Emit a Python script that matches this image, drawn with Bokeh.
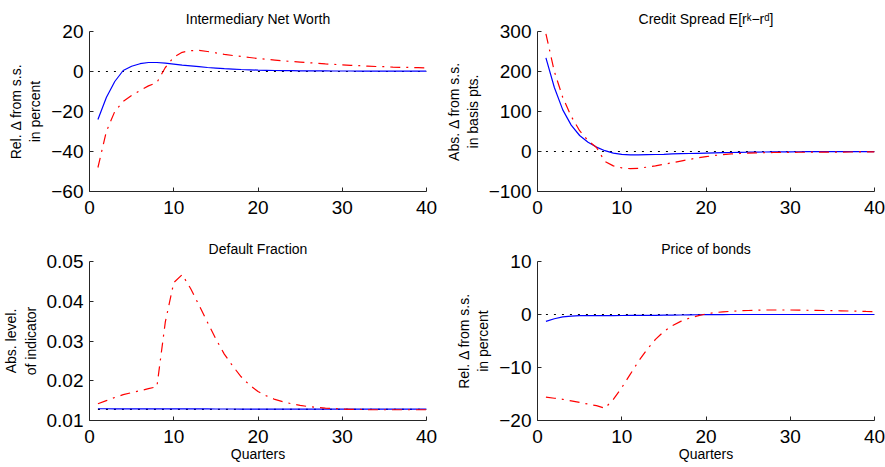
from bokeh.plotting import figure
from bokeh.layouts import gridplot
from bokeh.models import Range1d, FixedTicker
from bokeh.embed import file_html
from bokeh.resources import INLINE

# ---------------- data ----------------
quarters = list(range(1, 41))

# Intermediary Net Worth (rel. deviation, percent)
nw_blue = [-24.0, -13.0, -5.0, 0.5, 2.6, 3.9, 4.5, 4.5, 4.2, 3.7, 3.2, 2.8, 2.4, 2.0, 1.7,
           1.4, 1.2, 1.0, 0.85, 0.7, 0.6, 0.5, 0.45, 0.4, 0.35, 0.32, 0.3, 0.28, 0.26, 0.25,
           0.24, 0.23, 0.22, 0.21, 0.2, 0.2, 0.19, 0.19, 0.18, 0.18]
nw_red = [-48.0, -30.0, -20.0, -15.0, -12.0, -9.5, -7.2, -5.5, 2.0, 7.2, 9.6, 10.4, 10.6, 10.0, 9.3,
          8.6, 8.0, 7.5, 7.0, 6.5, 6.1, 5.7, 5.3, 5.0, 4.7, 4.4, 4.1, 3.8, 3.6, 3.3,
          3.1, 2.9, 2.7, 2.5, 2.4, 2.2, 2.1, 2.0, 1.9, 1.8]
nw_ss = [0.0] * 40

# Credit Spread (abs. deviation, basis points)
cs_blue = [234, 160, 104, 66, 40, 23, 11, 2, -4, -7, -8.5, -8.5, -8, -7.5, -7,
           -6, -5.5, -5, -4.5, -4, -3.5, -3, -2.5, -2, -1.8, -1.5, -1.2, -1, -0.8, -0.7,
           -0.6, -0.5, -0.5, -0.4, -0.4, -0.3, -0.3, -0.2, -0.2, -0.2]
cs_red = [294, 200, 135, 88, 52, 27, 10, -25, -36, -41, -43, -42, -39, -36, -32,
          -28, -24, -20, -16, -13, -10, -8, -6, -5, -4, -3.5, -3, -2.5, -2.3, -2,
          -1.9, -1.8, -1.7, -1.6, -1.5, -1.4, -1.3, -1.2, -1.1, -1.0]
cs_ss = [0.0] * 40

# Default Fraction (abs. level)
df_blue = [0.01295, 0.01295, 0.01294, 0.01294, 0.01293, 0.01293, 0.01292, 0.01292, 0.01292, 0.01291,
           0.01291, 0.0129, 0.0129, 0.0129, 0.01289, 0.01289, 0.01289, 0.01288, 0.01288, 0.01288,
           0.01288, 0.01287, 0.01287, 0.01287, 0.01287, 0.01286, 0.01286, 0.01286, 0.01286, 0.01286,
           0.01285, 0.01285, 0.01285, 0.01285, 0.01285, 0.01285, 0.01285, 0.01285, 0.01285, 0.01285]
df_red = [0.0142, 0.0150, 0.0158, 0.0165, 0.0170, 0.0175, 0.0180, 0.0185, 0.0348, 0.0447,
          0.0467, 0.0432, 0.0390, 0.0347, 0.0305, 0.0267, 0.0237, 0.0210, 0.0189, 0.0173,
          0.0162, 0.0153, 0.0147, 0.0142, 0.0138, 0.0135, 0.0133, 0.0131, 0.0130, 0.0129,
          0.0128, 0.0128, 0.0127, 0.0127, 0.0127, 0.0127, 0.0127, 0.0127, 0.0127, 0.0127]
df_ss = [0.0128] * 40

# Price of bonds (rel. deviation, percent)
pb_blue = [-1.3, -0.8, -0.45, -0.3, -0.22, -0.2, -0.2, -0.2, -0.2, -0.19, -0.18, -0.17, -0.16, -0.15, -0.13,
           -0.11, -0.09, -0.07, -0.05, -0.03, -0.02, -0.01, 0.0, 0.0, 0.0, 0.0, 0.0, 0.0, 0.0, 0.0,
           0.0, 0.0, 0.0, 0.0, 0.0, 0.0, 0.0, 0.0, 0.0, 0.0]
pb_red = [-15.6, -15.8, -16.0, -16.3, -16.6, -16.9, -17.2, -17.7, -16.0, -13.8, -11.3, -8.8, -6.6, -4.7, -3.2,
          -2.1, -1.3, -0.7, -0.25, 0.1, 0.35, 0.5, 0.6, 0.7, 0.75, 0.8, 0.85, 0.85, 0.85, 0.85,
          0.82, 0.8, 0.78, 0.75, 0.72, 0.7, 0.66, 0.62, 0.58, 0.55]
pb_ss = [0.0] * 40

x_ticks = [0, 10, 20, 30, 40]
nw_ticks = [-60, -40, -20, 0, 20]
nw_tick_labels = ["\u221260", "\u221240", "\u221220", "0", "20"]
cs_ticks = [-100, 0, 100, 200, 300]
cs_tick_labels = ["\u2212100", "0", "100", "200", "300"]
df_ticks = [0.01, 0.02, 0.03, 0.04, 0.05]
df_tick_labels = ["0.01", "0.02", "0.03", "0.04", "0.05"]
pb_ticks = [-20, -10, 0, 10]
pb_tick_labels = ["\u221220", "\u221210", "0", "10"]

FONT = "Liberation Sans"
AX = "#262626"


def make(title, ylabel, yr, yt, ytl, blue, red, ss, left, top, width, height, bottom, right, xlabel=None):
    p = figure(width=width, height=height, x_range=Range1d(0, 40), y_range=Range1d(*yr),
               toolbar_location=None, output_backend="svg",
               min_border_left=left, min_border_right=right, min_border_top=top,
               min_border_bottom=bottom)
    p.outline_line_color = None
    p.xgrid.visible = False
    p.ygrid.visible = False
    p.background_fill_color = "white"
    p.border_fill_color = "white"

    p.title.text = title
    p.title.align = "center"
    p.title.text_font = FONT
    p.title.text_font_size = "14px"
    p.title.text_font_style = "normal"
    p.title.text_color = "black"

    for ax in (p.xaxis[0], p.yaxis[0]):
        ax.axis_line_color = AX
        ax.major_tick_line_color = AX
        ax.major_tick_in = 4
        ax.major_tick_out = 0
        ax.minor_tick_in = 0
        ax.minor_tick_out = 0
        ax.major_label_text_font = FONT
        ax.major_label_text_font_size = "19px"
        ax.major_label_text_color = "black"
        ax.axis_label_text_font = FONT
        ax.axis_label_text_font_style = "normal"
        ax.axis_label_text_color = "black"

    p.xaxis.ticker = FixedTicker(ticks=x_ticks)
    p.xaxis.major_label_standoff = 9
    p.yaxis.ticker = FixedTicker(ticks=yt)
    p.yaxis.major_label_overrides = {t: l for t, l in zip(yt, ytl)}
    p.yaxis.major_label_standoff = 6
    p.yaxis.axis_label = ylabel
    p.yaxis.axis_label_text_font_size = "14px"
    p.yaxis.axis_label_text_line_height = 1.2
    p.yaxis.axis_label_standoff = 5
    if xlabel:
        p.xaxis.axis_label = xlabel
        p.xaxis.axis_label_text_font_size = "14px"
        p.xaxis.axis_label_standoff = 0

    p.line(quarters, ss, line_color="black", line_width=1.2, line_dash="2 6")
    p.line(quarters, blue, line_color="#0000ff", line_width=1.2)
    p.line(quarters, red, line_color="#ff0000", line_width=1.2, line_dash="10 6 2 6")
    return p


p1 = make("Intermediary Net Worth", "Rel. \u0394 from s.s.\nin percent", (-60, 20), nw_ticks, nw_tick_labels,
          nw_blue, nw_red, nw_ss, left=86, top=31, width=442, height=233, bottom=42, right=16)
p2 = make("Credit Spread E[r\u1d4f\u2212r\u1d48]", "Abs. \u0394 from s.s.\nin basis pts.", (-100, 300), cs_ticks, cs_tick_labels,
          cs_blue, cs_red, cs_ss, left=91, top=31, width=443, height=233, bottom=42, right=11)
p3 = make("Default Fraction", "Abs. level.\nof indicator", (0.01, 0.05), df_ticks, df_tick_labels,
          df_blue, df_red, df_ss, left=86, top=27, width=442, height=234, bottom=47, right=16, xlabel="Quarters")
p4 = make("Price of bonds", "Rel. \u0394 from s.s.\nin percent", (-20, 10), pb_ticks, pb_tick_labels,
          pb_blue, pb_red, pb_ss, left=91, top=27, width=443, height=234, bottom=47, right=11, xlabel="Quarters")

grid = gridplot([[p1, p2], [p3, p4]], toolbar_location=None)

open("out.html", "w").write(file_html(grid, INLINE))
